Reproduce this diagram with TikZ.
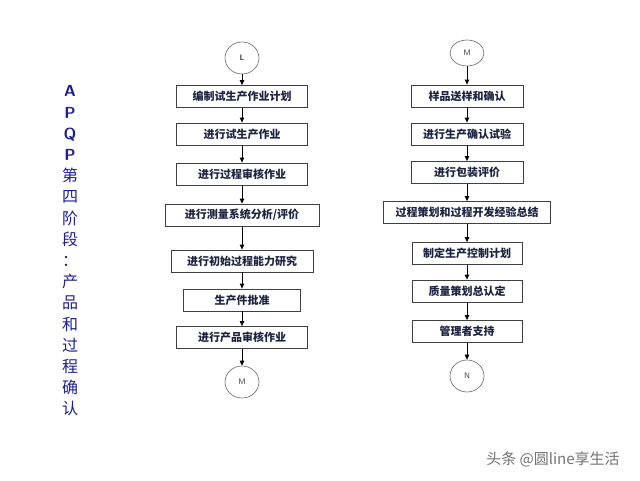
\documentclass[tikz,border=0pt]{standalone}
\usepackage{fontspec}
\usetikzlibrary{arrows.meta, shapes.geometric, positioning}
\newfontfamily\cjk{Noto Sans CJK SC}
\definecolor{titleblue}{HTML}{1E1E96}
\definecolor{boxtext}{HTML}{1C2340}

\begin{document}
\begin{tikzpicture}[x=1pt, y=-1pt,
    stepbox/.style={draw=black!75, line width=0.8pt, minimum height=22pt, inner sep=0pt,
      font=\cjk\bfseries\fontsize{11}{12}\selectfont, text=boxtext},
    endpoint/.style={ellipse, draw=black!60, line width=0.6pt, minimum width=34pt,
      minimum height=32pt, inner sep=0pt, text=black!75, font=\sffamily\fontsize{8}{9}\selectfont},
    flow/.style={-{Triangle[length=5pt,width=4.5pt]}, line width=0.9pt}]
    \useasboundingbox (0,0) rectangle (640,480);

    % title down the left side
    \node[align=center, text=titleblue, font=\cjk\fontsize{16}{21.2}\selectfont] (title) at (70,251)
      {{\sffamily\bfseries A}\\{\sffamily\bfseries P}\\{\sffamily\bfseries Q}\\{\sffamily\bfseries P}\\
       第\\四\\阶\\段\\：\\产\\品\\和\\过\\程\\确\\认};

    % left column
    \node[endpoint, font=\sffamily\bfseries\fontsize{8}{9}\selectfont] (L) at (242,58) {L};
    \node[stepbox, minimum width=131pt] (a) at (242,96.5) {编制试生产作业计划};
    \node[stepbox, minimum width=131pt] (b) at (242,134) {进行试生产作业};
    \node[stepbox, minimum width=131pt] (c) at (242,174) {进行过程审核作业};
    \node[stepbox, minimum width=154pt] (d) at (242,215) {进行测量系统分析/评价};
    \node[stepbox, minimum width=142pt] (e) at (242,261) {进行初始过程能力研究};
    \node[stepbox, minimum width=117pt] (f) at (242,300) {生产件批准};
    \node[stepbox, minimum width=131pt] (g) at (242,337.5) {进行产品审核作业};
    \node[endpoint] (m1) at (242,382) {M};

    \draw[flow] (L) -- (a);
    \draw[flow] (a) -- (b);
    \draw[flow] (b) -- (c);
    \draw[flow] (c) -- (d);
    \draw[flow] (d) -- (e);
    \draw[flow] (e) -- (f);
    \draw[flow] (f) -- (g);
    \draw[flow] (g) -- (m1);

    % right column
    \node[endpoint, minimum height=26pt] (m2) at (467,53) {M};
    \node[stepbox, minimum width=112pt] (p) at (467,96) {样品送样和确认};
    \node[stepbox, minimum width=112pt] (q) at (467,134) {进行生产确认试验};
    \node[stepbox, minimum width=112pt] (r) at (467,172.5) {进行包装评价};
    \node[stepbox, minimum width=167pt] (s) at (467,212.5) {过程策划和过程开发经验总结};
    \node[stepbox, minimum width=110pt] (t) at (467,253.5) {制定生产控制计划};
    \node[stepbox, minimum width=110pt] (u) at (467,291) {质量策划总认定};
    \node[stepbox, minimum width=110pt] (v) at (467,331.5) {管理者支持};
    \node[endpoint] (n) at (467,376) {N};

    \draw[flow] (m2) -- (p);
    \draw[flow] (p) -- (q);
    \draw[flow] (q) -- (r);
    \draw[flow] (r) -- (s);
    \draw[flow] (s) -- (t);
    \draw[flow] (t) -- (u);
    \draw[flow] (u) -- (v);
    \draw[flow] (v) -- (n);

    \node[text=black!55, font=\cjk\fontsize{15}{17}\selectfont] (mark) at (553,459) {头条 @圆line享生活};
\end{tikzpicture}
\end{document}
